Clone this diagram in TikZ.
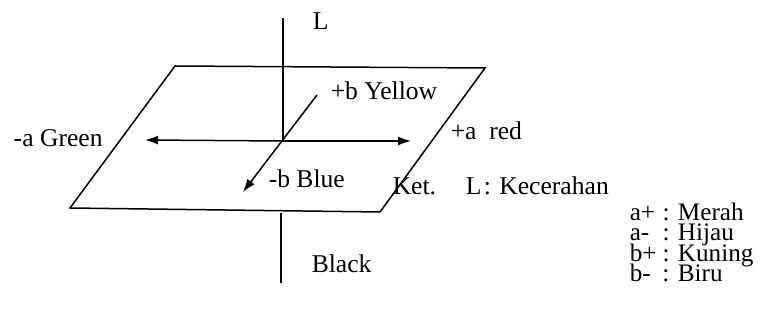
\documentclass[tikz,border=0pt]{standalone}
\usepackage{fontspec}
\setmainfont{Liberation Serif}
\usetikzlibrary{arrows.meta,positioning}

\newcommand{\keyitem}[2]{\makebox[1.3em][l]{#1}: #2}
\newcommand{\keyfont}{\fontsize{12.6}{10.3}\selectfont\lineskiplimit=-20pt\relax}

\begin{document}
\begin{tikzpicture}[x=0.5pt,y=-0.5pt,line width=0.75pt,
    lbl/.style={font=\fontsize{12.8}{15}\selectfont,inner sep=0pt,anchor=base west},
    axhead/.style={-{Latex[length=6.5pt,width=4.5pt]}}]
    % \draw[color=gray,step=10, help lines,opacity=0.3] (0,0) grid (762,325); %help grids
    \useasboundingbox (0,0) rectangle (762,325);
    % plane
    \coordinate (pTL) at (175,66);
    \coordinate (pTR) at (485,68);
    \coordinate (pBR) at (380,212);
    \coordinate (pBL) at (70,208);
    \draw (pTL)--(pTR)--(pBR)--(pBL)--cycle;
    % axes
    \coordinate (origin) at (283,141);
    \coordinate (Ltop) at (283,18);
    \coordinate (Lmid) at (281,213);
    \coordinate (Lbot) at (281,283);
    \coordinate (aneg) at (145,140);
    \coordinate (apos) at (411,141);
    \coordinate (bpos) at (317,95);
    \coordinate (bneg) at (243,192);
    \draw (Ltop)--(origin);
    \draw (Lmid)--(Lbot);
    \draw[axhead] (origin)--(aneg);
    \draw[axhead] (origin)--(apos);
    \draw[axhead] (bpos)--(bneg);
    % labels
    \node[lbl] (lL) at (312,30) {L};
    \node[lbl] (lYellow) at (330,100) {+b Yellow};
    \node[lbl] (lGreen) at (13,147) {-a Green};
    \node[lbl] (lRed) at (450,140) {+a\ \ red};
    \node[lbl] (lBlue) at (268,188) {-b Blue};
    \node[lbl] (lBlack) at (311,273) {Black};
    % keterangan
    \node[lbl] (kKet) at (392,195) {Ket.};
    \node[lbl] (kL) at (465,195) {L};
    \node[lbl] (kLdesc) at (483,195) {: Kecerahan};
    \node[lbl,align=left,font=\keyfont] (kList) at (629,282)
        {\keyitem{a+}{Merah}\\ \keyitem{a-}{Hijau}\\ \keyitem{b+}{Kuning}\\ \keyitem{b-}{Biru}};
\end{tikzpicture}
\end{document}
